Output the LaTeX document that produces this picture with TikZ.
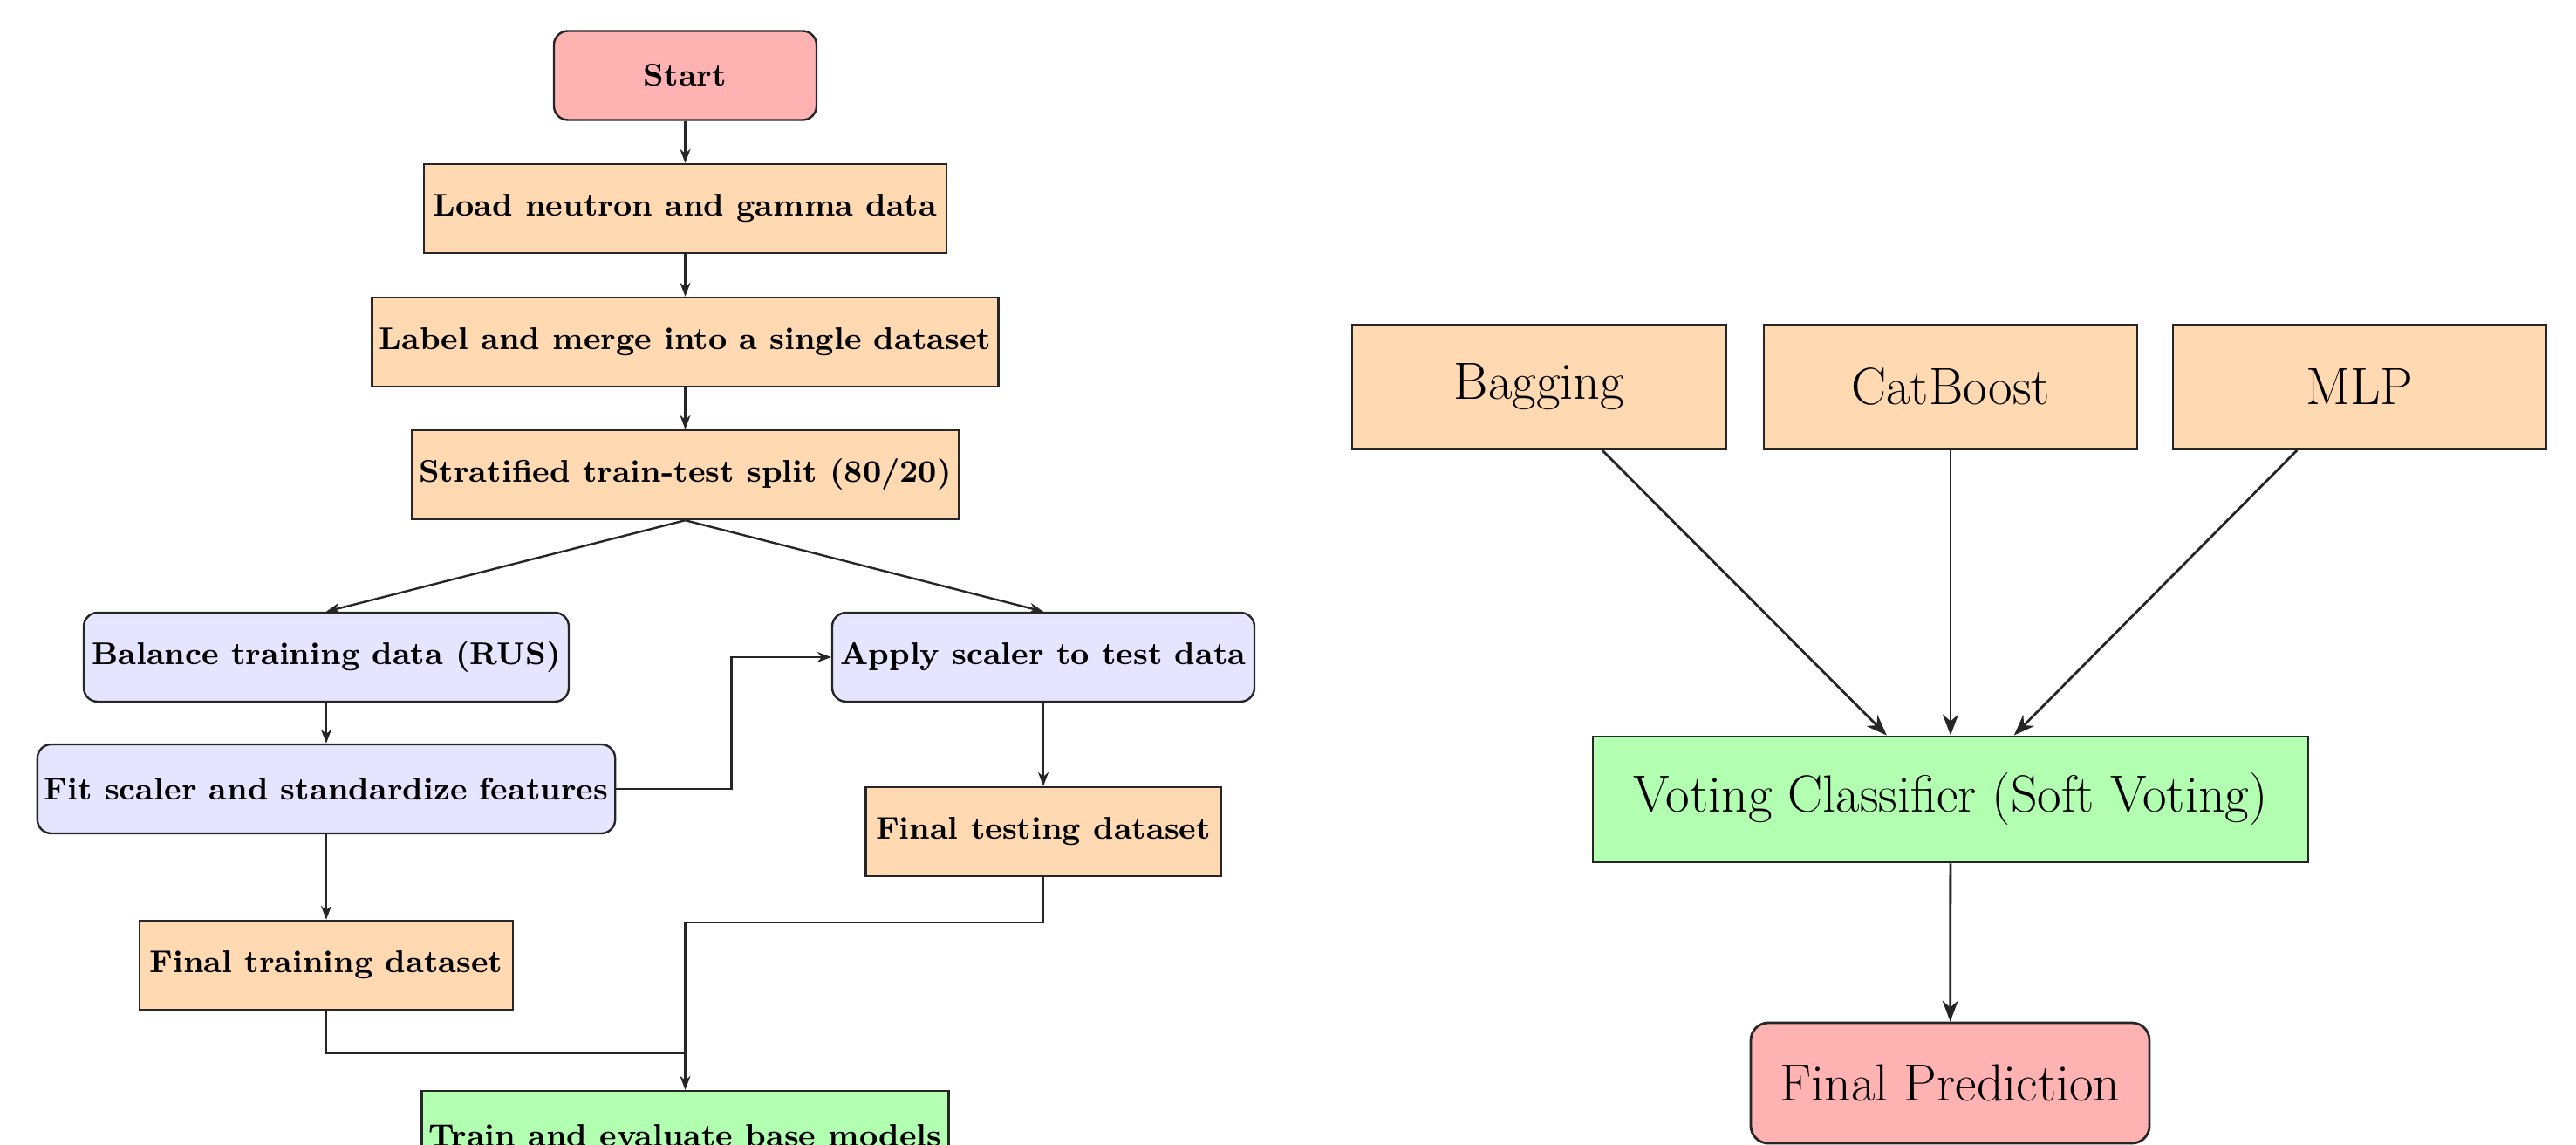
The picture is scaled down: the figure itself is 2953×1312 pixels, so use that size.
\documentclass[tikz,border=0pt]{standalone}
\usetikzlibrary{arrows.meta}
\begin{document}
\begin{tikzpicture}[x=0.25pt,y=-0.25pt,
  lbox/.style={draw=black!85, line width=0.6pt, font=\small\bfseries, inner sep=2pt, minimum height=25.5pt, align=center},
  obox/.style={lbox, fill=orange!30},
  bbox/.style={lbox, fill=blue!10, rounded corners=4pt},
  sbox/.style={lbox, fill=red!30, rounded corners=4pt},
  gbox/.style={lbox, fill=green!30},
  rbox/.style={draw=black!85, line width=0.7pt, font=\fontsize{15}{18}\selectfont, inner sep=2pt, minimum height=35.5pt, align=center},
  larrow/.style={-{Stealth[length=4pt,width=3pt]}, line width=0.6pt, draw=black!85},
  lline/.style={line width=0.6pt, draw=black!85},
  rarrow/.style={-{Stealth[length=6pt,width=4.5pt]}, line width=0.7pt, draw=black!85}]
\useasboundingbox (0,0) rectangle (2953,1312);

% ---------- left flow ----------
\node[sbox, minimum width=75.25pt] (start) at (785.5,86.5) {Start};
\node[obox, minimum width=149.75pt] (load) at (785.5,239) {Load neutron and gamma data};
\node[obox, minimum width=179.5pt] (label) at (785.5,392) {Label and merge into a single dataset};
\node[obox, minimum width=156.25pt] (strat) at (785.5,544) {Stratified train-test split (80/20)};
\node[bbox, minimum width=139pt] (bal) at (374,753) {Balance training data (RUS)};
\node[bbox, minimum width=121pt] (apply) at (1196,753) {Apply scaler to test data};
\node[bbox, minimum width=165.25pt] (fit) at (374,904) {Fit scaler and standardize features};
\node[obox, minimum width=101.75pt] (ftest) at (1196,953) {Final testing dataset};
\node[obox, minimum width=107pt] (ftrain) at (374,1106) {Final training dataset};
\node[gbox, minimum width=150.25pt] (train) at (785.5,1301) {Train and evaluate base models};
\coordinate (join) at (785.5,1207);

\draw[larrow] (start) -- (load);
\draw[larrow] (load) -- (label);
\draw[larrow] (label) -- (strat);
\draw[larrow] (strat.south) -- (bal.north);
\draw[larrow] (strat.south) -- (apply.north);
\draw[larrow] (bal) -- (fit);
\draw[larrow] (fit.east) -- ++(132,0) |- (apply.west);
\draw[larrow] (apply) -- (ftest);
\draw[larrow] (fit) -- (ftrain);
\draw[larrow] (ftest.south) -- ++(0,52) -| (train.north);
\draw[lline] (ftrain.south) |- (join);

% ---------- right ensemble ----------
\node[rbox, fill=orange!30, minimum width=107.25pt] (bag) at (1764.5,443.5) {Bagging};
\node[rbox, fill=orange!30, minimum width=107pt] (cat) at (2236,443.5) {CatBoost};
\node[rbox, fill=orange!30, minimum width=107pt] (mlp) at (2705,443.5) {MLP};
\node[rbox, fill=green!30, minimum width=205pt, minimum height=36pt] (vote) at (2236,916) {Voting Classifier (Soft Voting)};
\node[rbox, fill=red!30, rounded corners=5pt, minimum width=114.25pt, minimum height=34.5pt] (pred) at (2235.5,1241) {Final Prediction};

\draw[rarrow] (bag) -- (vote);
\draw[rarrow] (cat) -- (vote);
\draw[rarrow] (mlp) -- (vote);
\draw[rarrow] (vote) -- (pred);
\end{tikzpicture}
\end{document}
